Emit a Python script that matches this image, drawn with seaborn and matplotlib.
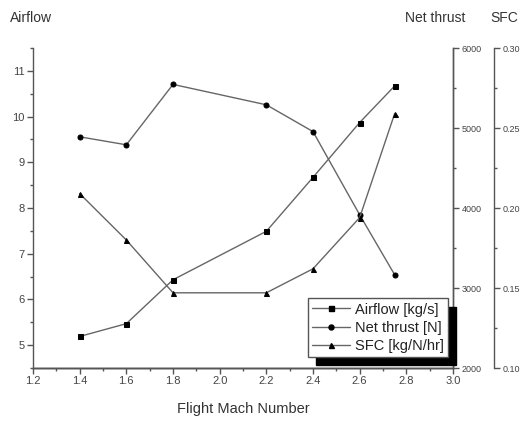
import matplotlib
matplotlib.use("Agg")
import matplotlib.pyplot as plt
import seaborn as sns
import pandas as pd
from matplotlib.ticker import MultipleLocator
from matplotlib.lines import Line2D

mach = [1.4, 1.6, 1.8, 2.2, 2.4, 2.6, 2.75]
airflow = [5.19, 5.47, 6.43, 7.49, 8.67, 9.87, 10.67]
net_thrust = [4890, 4790, 5545, 5290, 4955, 3915, 3165]
sfc = [0.209, 0.180, 0.147, 0.147, 0.162, 0.194, 0.259]

df = pd.DataFrame({"mach": mach, "airflow": airflow, "thrust": net_thrust, "sfc": sfc})

sns.set_theme(style="ticks")
plt.rcParams['font.family'] = ['Liberation Sans', 'DejaVu Sans']

W, H = 528, 423
fig = plt.figure(figsize=(W / 100, H / 100), dpi=100)
left, right, top, bottom = 33, 453, 48, 368
ax = fig.add_axes([left / W, 1 - bottom / H, (right - left) / W, (bottom - top) / H])
ax2 = ax.twinx()
ax3 = ax.twinx()
ax3.spines['right'].set_position(('axes', (494 - left) / (right - left)))

axc = '#555555'
lc = '#666666'
kw = dict(color=lc, linewidth=1.0, markersize=3.6, markerfacecolor='black', markeredgecolor='black')
sns.lineplot(data=df, x="mach", y="airflow", ax=ax, marker='s', **kw)
sns.lineplot(data=df, x="mach", y="thrust", ax=ax2, marker='o', **kw)
sns.lineplot(data=df, x="mach", y="sfc", ax=ax3, marker='^', **kw)

ax.set_xlim(1.2, 3.0)
ax.set_ylim(4.5, 11.5)
ax2.set_ylim(2000, 6000)
ax3.set_ylim(0.10, 0.30)
ax.xaxis.set_major_locator(MultipleLocator(0.2))
ax.xaxis.set_minor_locator(MultipleLocator(0.1))
ax.yaxis.set_major_locator(MultipleLocator(1))
ax.yaxis.set_minor_locator(MultipleLocator(0.5))
ax2.yaxis.set_major_locator(MultipleLocator(1000))
ax2.yaxis.set_minor_locator(MultipleLocator(500))
ax3.yaxis.set_major_locator(MultipleLocator(0.05))
ax3.yaxis.set_minor_locator(MultipleLocator(0.025))
ax.xaxis.set_major_formatter(matplotlib.ticker.FormatStrFormatter('%.1f'))
ax3.yaxis.set_major_formatter(matplotlib.ticker.FormatStrFormatter('%.2f'))

for a in (ax, ax2, ax3):
    a.set_xlabel("")
    a.set_ylabel("")
    for s in a.spines.values():
        s.set_color(axc)
        s.set_linewidth(1.0)
    a.tick_params(which='major', length=4, width=1.0, color=axc, labelcolor='#444444', pad=2)
    a.tick_params(which='minor', length=2, width=1.0, color=axc)

ax.tick_params(axis='both', labelsize=8)
for a in (ax, ax2, ax3):
    a.spines['top'].set_visible(False)
ax2.spines['left'].set_visible(False)
ax3.spines['left'].set_visible(False)
ax2.tick_params(axis='y', labelsize=6.5)
ax3.tick_params(axis='y', labelsize=6.5)

ax.set_xlabel("Flight Mach Number", fontsize=10.5, color='#333333', labelpad=11)

fig.text(10 / W, 1 - 18 / H, "Airflow", fontsize=10, color='#333333', va='center', ha='left')
fig.text(435 / W, 1 - 18 / H, "Net thrust", fontsize=10, color='#333333', va='center', ha='center')
fig.text(504 / W, 1 - 18 / H, "SFC", fontsize=10, color='#333333', va='center', ha='center')

handles = [
    Line2D([], [], marker='s', **kw),
    Line2D([], [], marker='o', **kw),
    Line2D([], [], marker='^', **kw),
]
labels = ["Airflow [kg/s]", "Net thrust [N]", "SFC [kg/N/hr]"]
leg = ax3.legend(handles, labels, loc='lower right', bbox_to_anchor=(0.988, 0.034),
                 fontsize=10.5, frameon=True, fancybox=False, handlelength=2.6,
                 handletextpad=0.3, borderpad=0.3, labelspacing=0.28, borderaxespad=0,
                 shadow={'color': 'black', 'alpha': 1.0, 'ox': 6, 'oy': -6})
leg.get_frame().set_edgecolor(axc)
leg.get_frame().set_linewidth(1.0)
for t in leg.get_texts():
    t.set_color('#222222')

fig.savefig("out.png", dpi=100)
